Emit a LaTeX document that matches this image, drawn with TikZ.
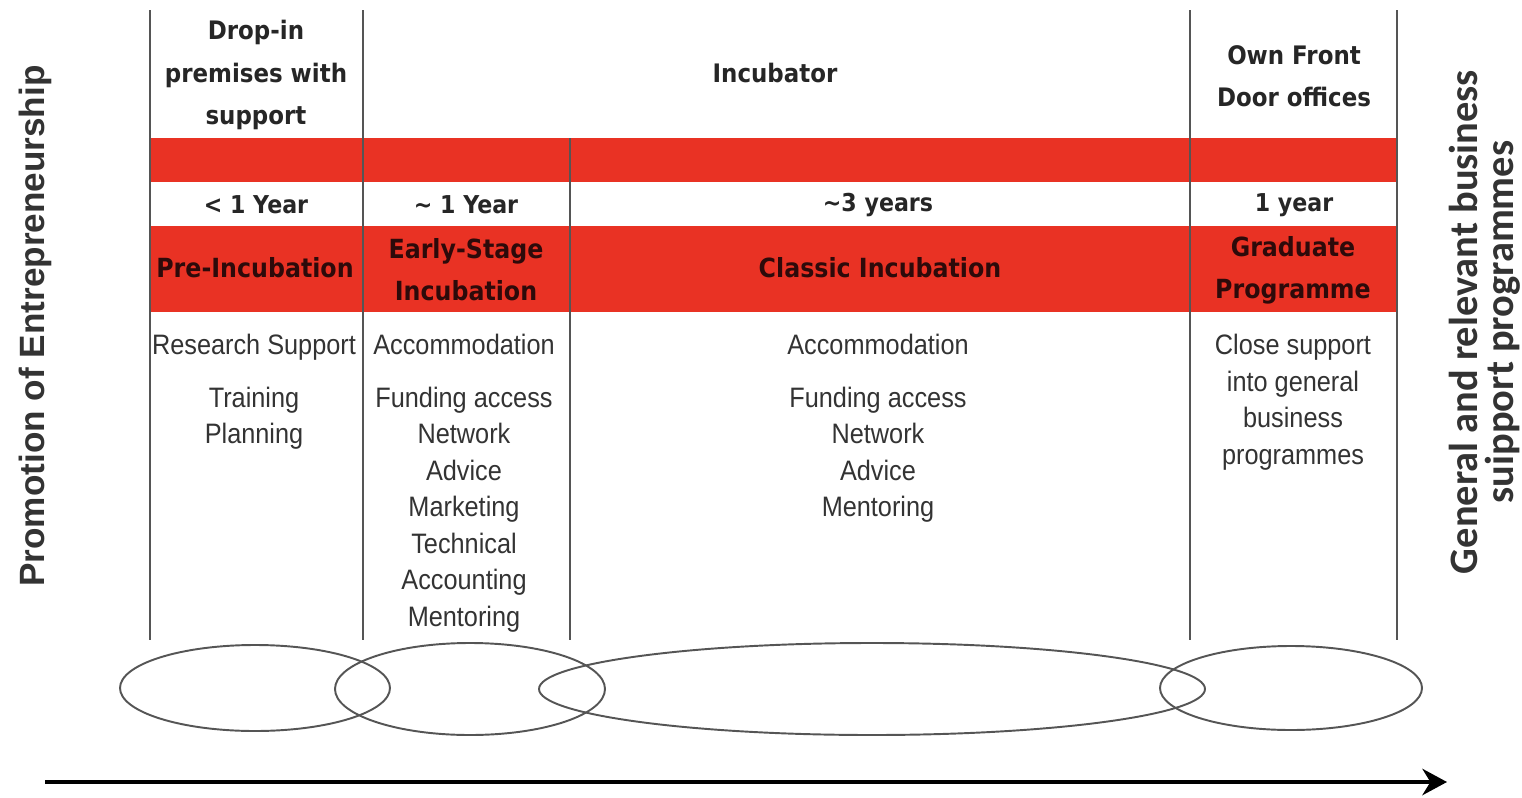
\documentclass[tikz,border=0pt]{standalone}
\usepackage{fontspec}
\setmainfont{Liberation Sans}
\newfontfamily\headfont{DejaVu Sans}[FakeStretch=0.9]
\newfontfamily\bodyfont{Liberation Sans}[FakeStretch=0.9]
\newfontfamily\sidefont{Carlito}
\usetikzlibrary{arrows.meta}

\definecolor{bandred}{RGB}{233,50,36}
\definecolor{stagetext}{RGB}{45,10,10}
\definecolor{rulegrey}{RGB}{85,85,85}

\tikzstyle{rule} = [draw=rulegrey, line width=1.1pt]
\tikzstyle{band} = [fill=bandred]
\tikzstyle{head} = [align=center, inner sep=0pt, font=\headfont\bfseries\fontsize{14.5}{24}\selectfont, text=black!85]
\tikzstyle{years} = [inner sep=0pt, font=\headfont\bfseries\fontsize{14}{24}\selectfont, text=black!85]
\tikzstyle{stage} = [align=center, inner sep=0pt, font=\headfont\bfseries\fontsize{15}{24}\selectfont, text=stagetext]
\tikzstyle{items} = [align=center, anchor=north, inner sep=0pt, font=\bodyfont\fontsize{16}{20.8}\selectfont, text=black!80]
\tikzstyle{loop} = [draw=rulegrey, line width=1.1pt]
\tikzstyle{sideleft} = [inner sep=0pt, font=\bfseries\fontsize{20}{22}\selectfont, text=black!80]
\tikzstyle{sideright} = [align=center, inner sep=0pt, font=\sidefont\bfseries\fontsize{23}{20.5}\selectfont, text=black!80]
\tikzstyle{timeline} = [draw=black, line width=2.3pt, -{Stealth[length=14pt, width=15pt]}]

\begin{document}
\begin{tikzpicture}[x=0.02cm, y=-0.02cm]
       \useasboundingbox (0,0) rectangle (1522,798);

       \fill[band] (150,138) rectangle (1397,182);
       \fill[band] (150,226) rectangle (1397,312);

       \draw[rule] (150,10) -- (150,640);
       \draw[rule] (363,10) -- (363,640);
       \draw[rule] (570,138) -- (570,640);
       \draw[rule] (1190,10) -- (1190,640);
       \draw[rule] (1397,10) -- (1397,640);

       \node[head] (dropin) at (256,75) {Drop-in\\premises with\\support};
       \node[head] (incubator) at (775,73) {Incubator};
       \node[head] (ownfront) at (1294,76) {Own Front\\Door offices};

       \node[years] (lessone) at (256,205) {< 1 Year};
       \node[years] (aboutone) at (466,205) {\textasciitilde{} 1 Year};
       \node[years] (three) at (878,205) {\textasciitilde3 years};
       \node[years] (oneyear) at (1294,205) {1 year};

       \node[stage] (pre) at (255,268) {Pre-Incubation};
       \node[stage] (early) at (466,270) {Early-Stage\\Incubation};
       \node[stage] (classic) at (880,268) {Classic Incubation};
       \node[stage] (graduate) at (1293,270) {Graduate\\Programme};

       \node[items] (prelist) at (254,334) {Research Support\\[9pt]Training\\Planning};
       \node[items] (earlylist) at (464,334) {Accommodation\\[9pt]Funding access\\Network\\Advice\\Marketing\\Technical\\Accounting\\Mentoring};
       \node[items] (classiclist) at (878,334) {Accommodation\\[9pt]Funding access\\Network\\Advice\\Mentoring};
       \node[items] (gradlist) at (1293,334) {Close support\\into general\\business\\programmes};

       \draw[loop] (255,688) ellipse [x radius=135, y radius=43];
       \draw[loop] (470,689) ellipse [x radius=135, y radius=46];
       \draw[loop] (872,689) ellipse [x radius=333, y radius=46];
       \draw[loop] (1291,688) ellipse [x radius=131, y radius=42];

       \coordinate (start) at (45,782);
       \coordinate (finish) at (1447,782);
       \draw[timeline] (start) -- (finish);

       \node[sideleft, rotate=90] (promotion) at (35,326) {Promotion of Entrepreneurship};
       \node[sideright, rotate=90] (general) at (1485,322) {General and relevant business\\suipport programmes};
\end{tikzpicture}
\end{document}
